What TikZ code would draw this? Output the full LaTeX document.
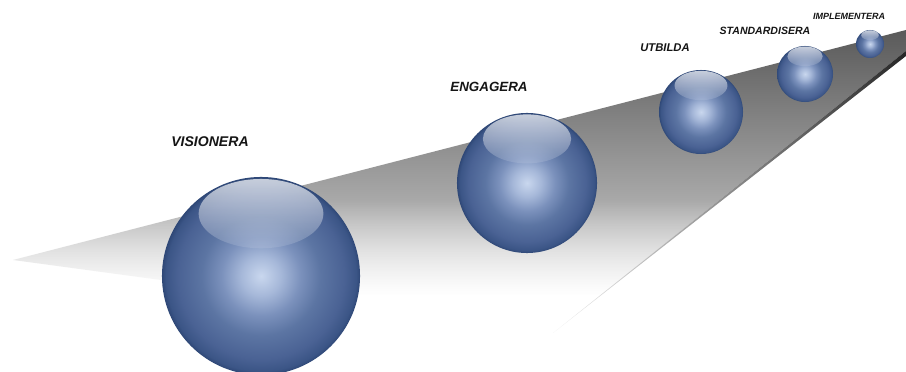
\documentclass[tikz,border=0pt]{standalone}
\usepackage{fontspec}
\setmainfont{Liberation Sans}
\usetikzlibrary{fadings}
\definecolor{ballrim}{HTML}{2F4877}
\definecolor{balledge}{HTML}{3B5586}
\definecolor{ballouter}{HTML}{4A6294}
\definecolor{ballmid}{HTML}{5C75A3}
\definecolor{ballinner}{HTML}{7B91BC}
\definecolor{ballglow}{HTML}{A6B8D9}
\definecolor{ballcore}{HTML}{C9D7EE}
\definecolor{roadtop}{HTML}{5A5A5A}
\definecolor{roadlow}{HTML}{E6E6E6}
\definecolor{lbltext}{HTML}{151515}
\pgfdeclareradialshading{glassball}{\pgfpoint{0bp}{0bp}}{color(0bp)=(ballcore);color(5bp)=(ballglow);color(10bp)=(ballinner);color(15bp)=(ballmid);color(21bp)=(ballouter);color(24bp)=(balledge);color(25bp)=(ballrim);color(50bp)=(ballrim)}
\tikzfading[name=lowfade,top color=transparent!100,bottom color=transparent!0]
\tikzfading[name=glossfade,top color=transparent!10,bottom color=transparent!88]
\begin{document}
\begin{tikzpicture}[x=0.025cm,y=-0.025cm,
  ball/.style={circle,shading=glassball,inner sep=0pt},
  lbl/.style={text=lbltext,inner sep=0pt}]
\useasboundingbox[fill=white] (0,0) rectangle (906,372);
\coordinate (tip) at (13,260);
\coordinate (farup) at (906,30);
\coordinate (farlow) at (906,51);
\coordinate (near) at (553,333);
\begin{scope}
\clip (tip)--(farup)--(farlow)--(near)--cycle;
\shade[top color=roadtop,bottom color=roadlow] (0,30) rectangle (906,333);
\end{scope}
\fill[white,path fading=lowfade] (0,200) rectangle (906,295);
\fill[white] (0,295) rectangle (906,340);
\shade[left color=black!5,right color=black!85] (near)--(farlow)--(906,56)--cycle;
\foreach \cx/\cy/\r/\nm/\txt/\lx/\ly/\fs in {261/276/99/vis/VISIONERA/210/142/10,
  527/183/70/eng/ENGAGERA/489/87/9.5,701/112/42/utb/UTBILDA/665/48/8,
  805/74/28/std/STANDARDISERA/765/31/7.5,870/44/14/imp/IMPLEMENTERA/849/16/6.4}{
\node[ball,minimum size=\r*0.05cm] (\nm) at (\cx,\cy) {};
\fill[white,fill opacity=0.8,path fading=glossfade] (\nm) ++(0,-0.63*\r) ellipse [x radius=0.63*\r,y radius=0.35*\r];
\node[lbl,font=\bfseries\itshape\fontsize{\fs}{\fs}\selectfont] (\nm-lbl) at (\lx,\ly) {\txt};
}
\end{tikzpicture}
\end{document}
